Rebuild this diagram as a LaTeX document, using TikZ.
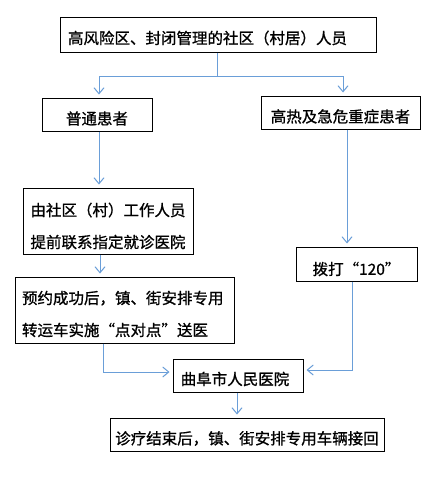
\documentclass[tikz,border=0pt]{standalone}
\usepackage{fontspec}
\setmainfont{Noto Sans CJK SC}[FakeBold=1]
\usetikzlibrary{arrows.meta}
\definecolor{linkblue}{HTML}{6A9ED8}
\tikzset{
  box/.style={draw=black, line width=1pt, rectangle, inner sep=0pt, anchor=center},
  txt/.style={inner sep=0pt, anchor=center, font=\fontsize{15.5}{32}\selectfont},
  arr/.style={draw=linkblue, line width=1pt, -{Straight Barb[length=6pt,width=10pt]}, shorten >=3pt},
  lnk/.style={draw=linkblue, line width=1pt}
}
\begin{document}
\begin{tikzpicture}[x=1pt,y=-1pt]
\useasboundingbox[fill=white] (0,0) rectangle (442,490);
\node[box, minimum width=316pt, minimum height=35pt] (top) at (218,34.5) {};
\node[txt, text width=300pt, align=left] (toptxt) at ([yshift=-3.5pt]top.center) {高风险区、封闭管理的社区（村居）人员};
\node[box, minimum width=110pt, minimum height=33pt] (pt) at (97,114.5) {};
\node[txt] (pttxt) at ([yshift=-4pt]pt.center) {普通患者};
\node[box, minimum width=159pt, minimum height=33pt] (gr) at (340.5,112.5) {};
\node[txt] (grtxt) at ([yshift=-4pt]gr.center) {高热及急危重症患者};
\node[box, minimum width=170pt, minimum height=66pt] (sq) at (108,221) {};
\node[txt, align=center] (sqtxt) at ([yshift=-5pt]sq.center) {由社区（村）工作人员\\提前联系指定就诊医院};
\node[box, minimum width=219pt, minimum height=66pt] (yy) at (124.5,310) {};
\node[txt, text width=205pt, align=left] (yytxt) at ([yshift=-4pt]yy.center) {预约成功后，镇、街安排专用\\转运车实施“点对点”送医};
\node[box, minimum width=121pt, minimum height=34pt] (bd) at (356.5,264) {};
\node[txt] (bdtxt) at ([yshift=-5pt]bd.center) {拨打“120”};
\node[box, minimum width=130pt, minimum height=33pt] (qf) at (238,375.5) {};
\node[txt] (qftxt) at ([xshift=-3pt,yshift=-3.5pt]qf.center) {曲阜市人民医院};
\node[box, minimum width=274pt, minimum height=33pt] (hs) at (247,434.5) {};
\node[txt] (hstxt) at ([yshift=-4pt]hs.center) {诊疗结束后，镇、街安排专用车辆接回};

\coordinate (split) at (217,76);
\coordinate (lsp) at (99,76);
\coordinate (rsp) at (343,76);
\draw[lnk] (top.south -| split) -- (split);
\draw[lnk] (lsp) -- (rsp);
\draw[arr] (lsp) -- (lsp |- pt.north);
\draw[arr] (rsp) -- (rsp |- gr.north);

\coordinate (lx1) at (99,0);
\coordinate (lx2) at (100,0);
\draw[arr] (lx1 |- pt.south) -- (lx1 |- sq.north);
\draw[arr] (lx2 |- sq.south) -- (lx2 |- yy.north);

\coordinate (rx1) at (347,0);
\draw[arr] (rx1 |- gr.south) -- (rx1 |- bd.north);
\coordinate (rturn) at (352,370);
\draw[arr] (bd.south -| rturn) -- (rturn) -- (rturn -| qf.east);
\coordinate (lturn) at (103,372);
\draw[arr] (yy.south -| lturn) -- (lturn) -- (lturn -| qf.west);

\coordinate (mx) at (237,0);
\draw[arr] (mx |- qf.south) -- (mx |- hs.north);
\end{tikzpicture}
\end{document}
